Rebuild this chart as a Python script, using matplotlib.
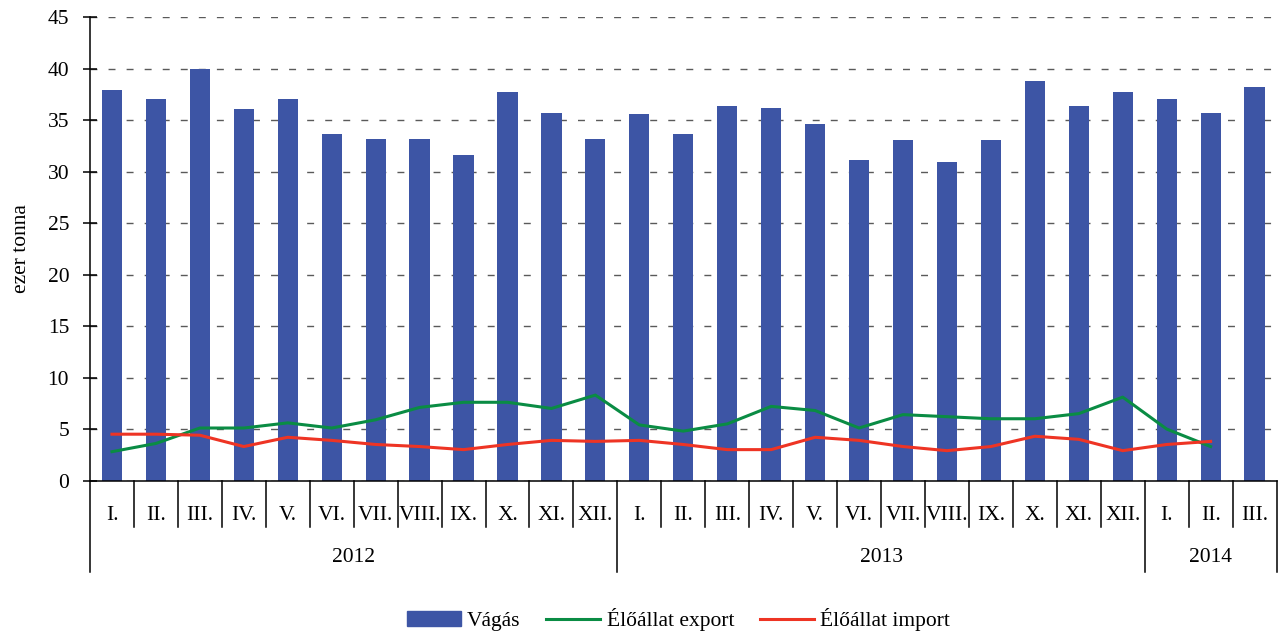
import numpy as np
import matplotlib.pyplot as plt
import matplotlib.transforms as mtransforms
from matplotlib.patches import Patch
from matplotlib.lines import Line2D

months = ['I.', 'II.', 'III.', 'IV.', 'V.', 'VI.', 'VII.', 'VIII.', 'IX.', 'X.', 'XI.', 'XII.']
month_labels = months + months + months[:3]
years = ['2012', '2013', '2014']
year_counts = [12, 12, 3]

vagas = [37.9, 37.1, 40.0, 36.1, 37.1, 33.7, 33.2, 33.2, 31.6, 37.7, 35.7, 33.2,
         35.6, 33.7, 36.4, 36.2, 34.6, 31.1, 33.1, 30.9, 33.1, 38.8, 36.4, 37.7,
         37.1, 35.7, 38.2]
export = [2.8, 3.6, 5.1, 5.1, 5.6, 5.1, 5.9, 7.1, 7.6, 7.6, 7.0, 8.3,
          5.4, 4.8, 5.5, 7.2, 6.8, 5.1, 6.4, 6.2, 6.0, 6.0, 6.5, 8.1,
          5.0, 3.3]
imp = [4.5, 4.5, 4.4, 3.3, 4.2, 3.9, 3.5, 3.3, 3.0, 3.5, 3.9, 3.8,
       3.9, 3.5, 3.0, 3.0, 4.2, 3.9, 3.3, 2.9, 3.3, 4.3, 4.0, 2.9,
       3.5, 3.8]

plt.rcParams['font.family'] = ['Liberation Serif', 'DejaVu Serif']
plt.rcParams['font.size'] = 15.5

fig = plt.figure(figsize=(12.8, 6.32), dpi=100)
ax = fig.add_axes([0.0703, 0.2397, 0.927, 0.7329])

x = np.arange(len(vagas))
ax.bar(x, vagas, width=0.46, color='#3d55a5', zorder=2)
ax.plot(np.arange(len(export)), export, color='#0a8c44', lw=2.2, zorder=3)
ax.plot(np.arange(len(imp)), imp, color='#ee3424', lw=2.2, zorder=3)

ax.set_xlim(-0.5, len(vagas) - 0.5)
ax.set_ylim(0, 45)
ax.set_yticks(np.arange(0, 46, 5))
ax.yaxis.grid(True, color='#5a5a5a', lw=1, linestyle=(0, (5, 8)), zorder=0)
ax.set_axisbelow(True)
for s in ['top', 'right']:
    ax.spines[s].set_visible(False)
ax.spines['left'].set_linewidth(1.1)
ax.spines['bottom'].set_linewidth(1.1)
ax.tick_params(axis='y', direction='inout', length=10, width=1.1, pad=10)
ax.set_xticks([])
ax.set_ylabel('ezer tonna', labelpad=12)

# two-level x axis
trans = mtransforms.blended_transform_factory(ax.transData, ax.transAxes)
for i, lab in enumerate(month_labels):
    ax.text(i, -0.0745, lab, transform=trans, ha='center', va='center')
year_bounds = np.cumsum([0] + year_counts) - 0.5
for b in np.arange(-0.5, len(vagas)):
    if b in year_bounds:
        y0 = -0.1975
    else:
        y0 = -0.100
    ax.plot([b, b], [0, y0], transform=trans, color='black', lw=1.1, clip_on=False)
for k, yr in enumerate(years):
    mid = (year_bounds[k] + year_bounds[k + 1]) / 2
    ax.text(mid, -0.167, yr, transform=trans, ha='center', va='center')

handles = [Patch(color='#3d55a5'),
           Line2D([], [], color='#0a8c44', lw=2.2),
           Line2D([], [], color='#ee3424', lw=2.2)]
fig.legend(handles, ['Vágás', 'Élőállat export', 'Élőállat import'],
           loc='center', bbox_to_anchor=(0.53, 0.019), ncol=3, frameon=False,
           handlelength=2.5, handleheight=0.7, handletextpad=0.3, columnspacing=1.2,
           borderpad=0, borderaxespad=0)

plt.savefig('out.png', dpi=100)
